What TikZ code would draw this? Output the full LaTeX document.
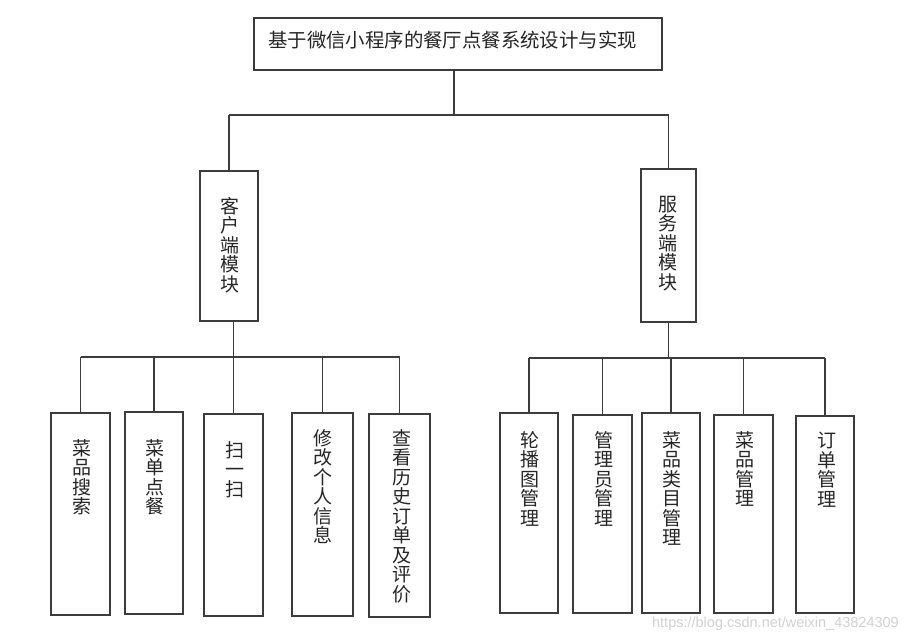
\documentclass[tikz,border=0pt]{standalone}
\usepackage{fontspec}
\setmainfont{Liberation Serif}
\newfontfamily\cjk{Noto Sans CJK SC}
\newfontfamily\wmfont{Liberation Sans}
\definecolor{linecol}{HTML}{3C3C3C}
\definecolor{txtcol}{HTML}{262626}
\begin{document}
\begin{tikzpicture}[x=1pt,y=-1pt,
  box/.style={draw=linecol, line width=1.4pt, fill=white, inner sep=0pt},
  vtext/.style={font=\cjk\fontsize{19}{19.5}\selectfont, align=center, anchor=north, inner sep=0pt, text=txtcol},
  conn/.style={draw=linecol, line width=1.4pt}]
\useasboundingbox (0,0) rectangle (909,643);
\fill[white] (0,0) rectangle (909,643);
% boxes
\node[box, minimum width=408pt, minimum height=52pt] (top) at (458,44) {};
\node[box, minimum width=58pt, minimum height=150pt] (client) at (229,246) {};
\node[box, minimum width=55pt, minimum height=153pt] (server) at (668.5,245.5) {};
\node[box, minimum width=59pt, minimum height=202pt] (c1) at (80.5,514) {};
\node[box, minimum width=58pt, minimum height=202pt] (c2) at (154,513) {};
\node[box, minimum width=59pt, minimum height=202pt] (c3) at (233.5,515) {};
\node[box, minimum width=61pt, minimum height=203pt] (c4) at (322.5,514.5) {};
\node[box, minimum width=61pt, minimum height=203pt] (c5) at (399.5,515.5) {};
\node[box, minimum width=58pt, minimum height=200pt] (s1) at (529,513) {};
\node[box, minimum width=59pt, minimum height=198pt] (s2) at (602.5,514) {};
\node[box, minimum width=58pt, minimum height=200pt] (s3) at (671,513) {};
\node[box, minimum width=59pt, minimum height=198pt] (s4) at (743.5,514) {};
\node[box, minimum width=58pt, minimum height=197pt] (s5) at (825,514.5) {};
% texts
\node[font=\cjk\fontsize{19.4}{20}\selectfont, text=txtcol, anchor=west, inner sep=0pt] (title) at (268,40) {基于微信小程序的餐厅点餐系统设计与实现};
\node[vtext] (tclient) at (230,197) {客\\户\\端\\模\\块};
\node[vtext] (tserver) at (668,196) {服\\务\\端\\模\\块};
\node[vtext] (tc1) at (82,439) {菜\\品\\搜\\索};
\node[vtext] (tc2) at (155,439) {菜\\单\\点\\餐};
\node[vtext] (tc3) at (235,441) {扫\\一\\扫};
\node[vtext] (tc4) at (323,429) {修\\改\\个\\人\\信\\息};
\node[vtext] (tc5) at (402,429) {查\\看\\历\\史\\订\\单\\及\\评\\价};
\node[vtext] (ts1) at (530,431) {轮\\播\\图\\管\\理};
\node[vtext] (ts2) at (604,431) {管\\理\\员\\管\\理};
\node[vtext] (ts3) at (672,431) {菜\\品\\类\\目\\管\\理};
\node[vtext] (ts4) at (745,431) {菜\\品\\管\\理};
\node[vtext] (ts5) at (827,432) {订\\单\\管\\理};
% bus coordinates
\coordinate (busT) at (454,115);
\coordinate (busL) at (235,357);
\coordinate (busR) at (668,358);
% connectors
\draw[conn] (top.south -| busT) -- (busT);
\draw[conn] (client.north |- busT) -- (server.north |- busT);
\draw[conn] (client.north |- busT) -- (client.north);
\draw[conn] (server.north |- busT) -- (server.north);
\draw[conn] (c3.north |- client.south) -- (c3.north);
\draw[conn] (c1.north |- busL) -- (c5.north |- busL);
\foreach \c in {c1,c2,c4,c5} \draw[conn] (\c.north |- busL) -- (\c.north);
\draw[conn] (server.south) -- (server.south |- busR);
\draw[conn] (s1.north |- busR) -- (s5.north |- busR);
\foreach \c in {s1,s2,s3,s4,s5} \draw[conn] (\c.north |- busR) -- (\c.north);
% watermark
\node[font=\wmfont\fontsize{14.5}{15}\selectfont, text=black!18, anchor=east, inner sep=0pt] (wm) at (899,624) {https://blog.csdn.net/weixin\_43824309};
\end{tikzpicture}
\end{document}
